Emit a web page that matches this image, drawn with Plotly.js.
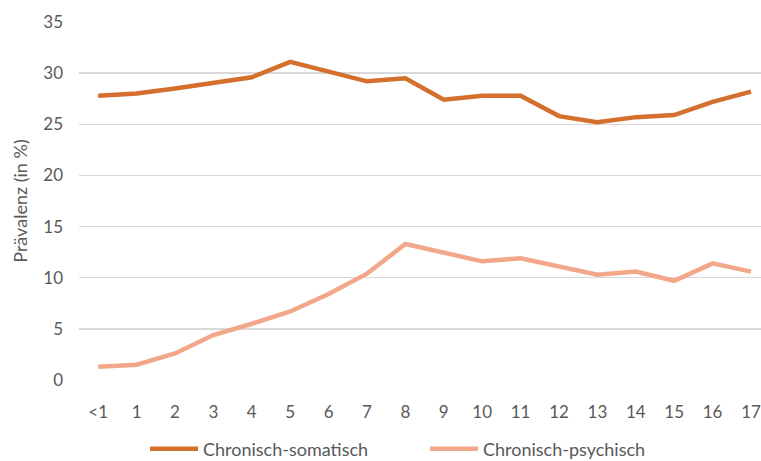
<!DOCTYPE html>
<html><head><meta charset="utf-8">
<script src="https://cdn.plot.ly/plotly-3.0.1.min.js"></script>
<style>html,body{margin:0;padding:0;background:#fff}</style>
</head><body>
<div id="chart" style="width:761px;height:461px"></div>
<script>
const ages = ["<1","1","2","3","4","5","6","7","8","9","10","11","12","13","14","15","16","17"];
const somatisch = [27.8,28.0,28.5,29.0,29.6,31.1,30.2,29.2,29.5,27.4,27.8,27.8,25.8,25.2,25.7,25.9,27.2,28.2];
const psychisch = [1.3,1.5,2.6,4.4,5.5,6.7,8.4,10.4,13.3,12.4,11.6,11.9,11.1,10.3,10.6,9.7,11.4,10.6];
const yTicks = [0,5,10,15,20,25,30,35];

const font = {family:"Lato, Open Sans, sans-serif", color:"#595959", size:17};
const legFont = {family:"Lato, Open Sans, sans-serif", color:"#595959", size:18};
const plotL = 79, plotW = 682, plotT = 22, plotH = 358;
const traces = [
  {x:ages, y:somatisch, type:"scatter", mode:"lines", name:"Chronisch-somatisch",
   line:{color:"#D46F2E", width:4.5}, legend:"legend"},
  {x:ages, y:psychisch, type:"scatter", mode:"lines", name:"Chronisch-psychisch",
   line:{color:"#F2A789", width:4.5}, legend:"legend2"}
];
function legendAt(px){
  return {orientation:"h", x:(px-plotL)/plotW, xanchor:"left", y:-(449-(plotT+plotH))/plotH, yanchor:"middle",
          font:legFont, itemwidth:48, bgcolor:"rgba(0,0,0,0)", borderwidth:0, tracegroupgap:0};
}
const layout = {
  width:761, height:461,
  margin:{l:plotL, r:761-plotL-plotW, t:plotT, b:461-plotT-plotH, autoexpand:false},
  paper_bgcolor:"#fff", plot_bgcolor:"#fff",
  font:font,
  showlegend:true,
  legend:legendAt(145),
  legend2:legendAt(425),
  xaxis:{type:"category", range:[-0.5,17.26], showgrid:false, zeroline:false, showline:false, ticks:"", tickfont:font,
         ticklabelstandoff:20, automargin:false},
  yaxis:{range:[0,35], tickvals:yTicks, showgrid:true, gridcolor:"#d9d9d9", gridwidth:1.5,
         zeroline:false, showline:false, ticks:"", tickfont:font, ticklabelstandoff:15, automargin:false,
         title:{text:"Prävalenz (in %)", font:legFont, standoff:10}}
};
Plotly.newPlot("chart", traces, layout, {displayModeBar:false, staticPlot:true});
</script>
</body></html>
